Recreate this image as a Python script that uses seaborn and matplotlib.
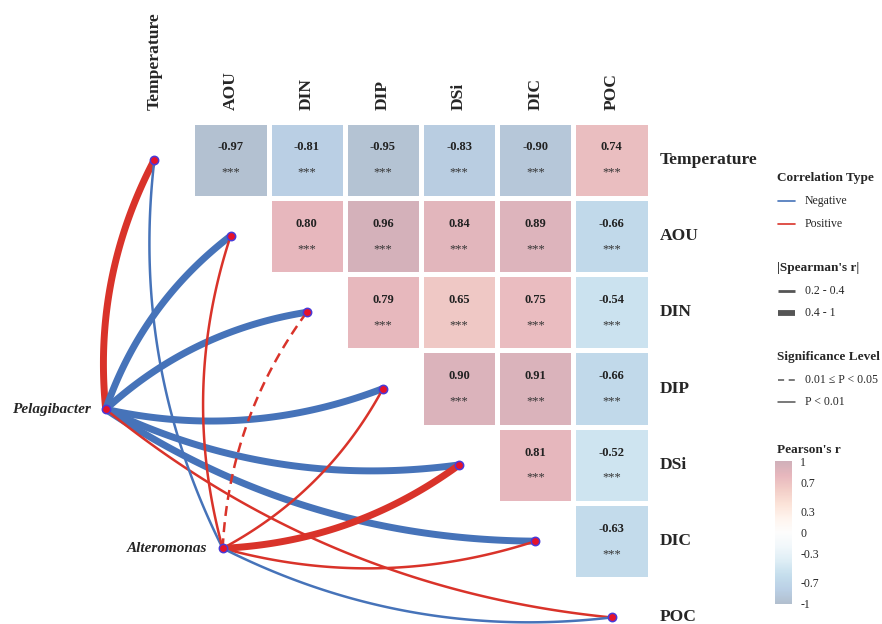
import numpy as np
import pandas as pd
import matplotlib
matplotlib.use("Agg")
import matplotlib.pyplot as plt
from matplotlib.colors import ListedColormap
import seaborn as sns

# ---------------------------------------------------------------- data
variables = ["Temperature", "AOU", "DIN", "DIP", "DSi", "DIC", "POC"]

# Pearson's r between environmental variables (upper triangle, one row each)
r_temperature = [-0.97, -0.81, -0.95, -0.83, -0.90, 0.74]
r_aou = [0.80, 0.96, 0.84, 0.89, -0.66]
r_din = [0.79, 0.65, 0.75, -0.54]
r_dip = [0.90, 0.91, -0.66]
r_dsi = [0.81, -0.52]
r_dic = [-0.63]
pearson_stars = "***"

taxa = ["Pelagibacter", "Alteromonas"]

# Mantel links from each taxon to every variable (same order as `variables`)
pelagibacter_type = ["Positive", "Negative", "Negative", "Negative", "Negative", "Negative", "Positive"]
pelagibacter_abs_r = ["0.4 - 1", "0.4 - 1", "0.4 - 1", "0.4 - 1", "0.4 - 1", "0.4 - 1", "0.2 - 0.4"]
pelagibacter_p = ["P < 0.01", "P < 0.01", "P < 0.01", "P < 0.01", "P < 0.01", "P < 0.01", "P < 0.01"]

alteromonas_type = ["Negative", "Positive", "Positive", "Positive", "Positive", "Positive", "Negative"]
alteromonas_abs_r = ["0.2 - 0.4", "0.2 - 0.4", "0.2 - 0.4", "0.2 - 0.4", "0.4 - 1", "0.2 - 0.4", "0.2 - 0.4"]
alteromonas_p = ["P < 0.01", "P < 0.01", "0.01 \u2264 P < 0.05", "P < 0.01", "P < 0.01", "P < 0.01", "P < 0.01"]

cbar_ticks = [1, 0.7, 0.3, 0, -0.3, -0.7, -1]

# ---------------------------------------------------------------- style
sns.set_style("white")
plt.rcParams["font.family"] = ["Liberation Serif", "DejaVu Serif"]

BLUE = "#4673b9"
RED = "#d9332a"
GREY = "#555555"
type_colors = {"Negative": BLUE, "Positive": RED}
width_map = {"0.2 - 0.4": 1.8, "0.4 - 1": 5.0}
dash_map = {"P < 0.01": "-", "0.01 \u2264 P < 0.05": (0, (4, 2.5))}

# faded RdBu palette for the correlation tiles
base = plt.get_cmap("RdBu_r")(np.linspace(0, 1, 256))
faded = 1 - 0.31 * (1 - base[:, :3])
cmap = ListedColormap(faded)

W, H = 882, 624
fig = plt.figure(figsize=(W / 100, H / 100), dpi=100)

# heatmap grid: 7 x 7 cells, drawn in cell units
cell_w, cell_h = 76.2, 76.3
gx0, gy0 = 116.3, 121.5
ax = fig.add_axes([gx0 / W, 1 - (gy0 + 7 * cell_h) / H, 7 * cell_w / W, 7 * cell_h / H])

rows = [r_temperature, r_aou, r_din, r_dip, r_dsi, r_dic]
n = len(variables)
mat = np.full((n, n), np.nan)
for i, vals in enumerate(rows):
    mat[i, i + 1:] = vals
df = pd.DataFrame(mat, index=variables, columns=variables)

sns.heatmap(df, ax=ax, cmap=cmap, vmin=-1, vmax=1, cbar=False,
            linewidths=2.2, linecolor="white",
            xticklabels=False, yticklabels=False, square=False)
ax.set_xlim(0, n)
ax.set_ylim(n, 0)
ax.set_xticks([])
ax.set_yticks([])
for s in ax.spines.values():
    s.set_visible(False)

# tile annotations
for i in range(n):
    for j in range(n):
        v = mat[i, j]
        if np.isnan(v):
            continue
        ax.text(j + 0.5, i + 0.34, f"{v:.2f}", ha="center", va="center",
                fontsize=9, fontweight="bold", color="#222222")
        ax.text(j + 0.5, i + 0.67, pearson_stars, ha="center", va="center",
                fontsize=9, color="#333333")

# variable labels
for k, name in enumerate(variables):
    ax.text(k + 0.5, -0.15, name, rotation=90, ha="center", va="bottom",
            fontsize=12.6, fontweight="bold", clip_on=False)
    ax.text(7.13, k + 0.5, name, ha="left", va="center",
            fontsize=12.6, fontweight="bold", clip_on=False)

# ---------------------------------------------------------------- links
taxon_pos = {"Pelagibacter": (-0.139, 3.772), "Alteromonas": (1.396, 5.594)}
links = {
    "Pelagibacter": (pelagibacter_type, pelagibacter_abs_r, pelagibacter_p),
    "Alteromonas": (alteromonas_type, alteromonas_abs_r, alteromonas_p),
}


def bezier(x0, y0, x1, y1, bend, num=100):
    dx, dy = x1 - x0, y1 - y0
    cx = (x0 + x1) / 2 + bend * dy
    cy = (y0 + y1) / 2 - bend * dx
    t = np.linspace(0, 1, num)
    xs = (1 - t) ** 2 * x0 + 2 * (1 - t) * t * cx + t ** 2 * x1
    ys = (1 - t) ** 2 * y0 + 2 * (1 - t) * t * cy + t ** 2 * y1
    return xs, ys


for taxon in taxa:
    tx, ty = taxon_pos[taxon]
    ctype, absr, pcls = links[taxon]
    for k in range(n):
        ex, ey = k + 0.5, k + 0.5
        bend = 0.15 if k < 3 else -0.15
        xs, ys = bezier(tx, ty, ex, ey, bend)
        ax.plot(xs, ys, color=type_colors[ctype[k]], lw=width_map[absr[k]],
                linestyle=dash_map[pcls[k]], solid_capstyle="butt",
                dash_capstyle="butt", clip_on=False, zorder=3)

node_kw = dict(marker="o", ms=6, mfc="#e5122a", mec="#4a3ad8", mew=1.1,
               linestyle="none", clip_on=False, zorder=5)
ax.plot(np.arange(n) + 0.5, np.arange(n) + 0.5, **node_kw)
for taxon in taxa:
    tx, ty = taxon_pos[taxon]
    ax.plot([tx], [ty], **node_kw)
    ax.text(tx - 0.2, ty, taxon, ha="right", va="center", fontsize=11,
            fontweight="bold", fontstyle="italic", clip_on=False)

# ---------------------------------------------------------------- legend
lg = fig.add_axes([0, 0, 1, 1])
lg.set_xlim(0, W)
lg.set_ylim(H, 0)
lg.axis("off")
lg.patch.set_alpha(0)

title_kw = dict(fontsize=9.5, fontweight="bold", ha="left", va="center")
label_kw = dict(fontsize=8.5, ha="left", va="center")
lx0, lx1, tx_lab = 778, 795, 805

lg.text(777, 178, "Correlation Type", **title_kw)
for yy, key in zip([201, 224], ["Negative", "Positive"]):
    lg.plot([lx0, lx1], [yy, yy], color=type_colors[key], lw=1.2)
    lg.text(tx_lab, yy, key, **label_kw)

lg.text(777, 268, "|Spearman's r|", **title_kw)
for yy, key in zip([291, 313], ["0.2 - 0.4", "0.4 - 1"]):
    lg.plot([lx0, lx1], [yy, yy], color=GREY, lw=2.0 if key == "0.2 - 0.4" else 4.2,
            solid_capstyle="butt")
    lg.text(tx_lab, yy, key, **label_kw)

lg.text(777, 357, "Significance Level", **title_kw)
for yy, key in zip([380, 402], ["0.01 \u2264 P < 0.05", "P < 0.01"]):
    lg.plot([lx0, lx1], [yy, yy], color=GREY, lw=1.1,
            linestyle=(0, (4, 3)) if key != "P < 0.01" else "-")
    lg.text(tx_lab, yy, key, **label_kw)

lg.text(777, 450, "Pearson's r", **title_kw)

cax = fig.add_axes([775 / W, 1 - 604 / H, 17 / W, 143 / H])
cb = fig.colorbar(ax.collections[0], cax=cax, ticks=cbar_ticks)
cb.outline.set_visible(False)
cax.tick_params(length=0, labelsize=8.5, pad=6)
cb.set_ticklabels([f"{t:g}" for t in cbar_ticks])

fig.savefig("out.png", dpi=100)
